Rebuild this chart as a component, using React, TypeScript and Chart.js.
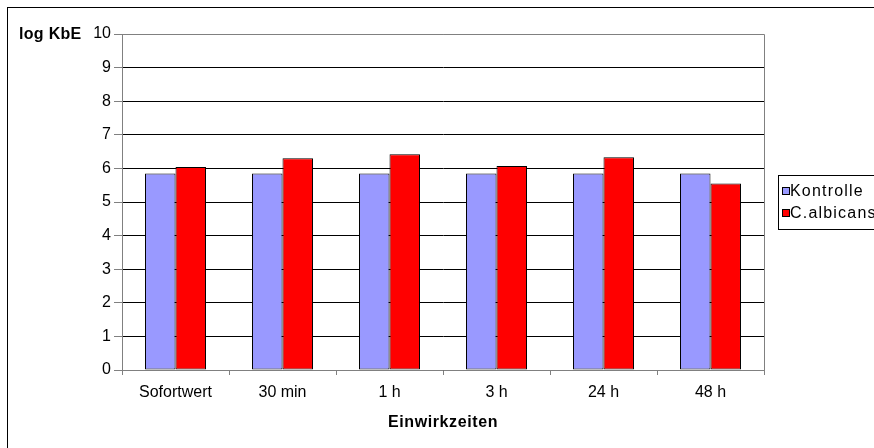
import React, { useEffect, useRef } from "react";
import { Chart, registerables } from "chart.js";

Chart.register(...registerables);

const categories = ["Sofortwert", "30 min", "1 h", "3 h", "24 h", "48 h"];
const kontrolle = [5.85, 5.85, 5.85, 5.85, 5.85, 5.85];
const albicans = [6.04, 6.3, 6.42, 6.07, 6.33, 5.55];
const seriesNames = ["Kontrolle", "C.albicans"];
const seriesColors = ["#9999FF", "#FF0000"];
const yTitle = "log KbE";
const xTitle = "Einwirkzeiten";

const FONT = "Liberation Sans, Arial, sans-serif";
const AXIS_GRAY = "#808080";

const decorations = {
  id: "decorations",
  afterDraw(chart: any) {
    const { ctx, chartArea } = chart;
    ctx.save();
    // outer frame
    ctx.strokeStyle = "#000";
    ctx.lineWidth = 1;
    ctx.strokeRect(7.5, 7.5, 900, 500);
    // plot border (top and right)
    ctx.strokeStyle = AXIS_GRAY;
    ctx.beginPath();
    ctx.moveTo(chartArea.left, chartArea.top + 0.5);
    ctx.lineTo(chartArea.right + 0.5, chartArea.top + 0.5);
    ctx.lineTo(chartArea.right + 0.5, chartArea.bottom);
    ctx.stroke();

    // axis titles
    ctx.fillStyle = "#000";
    ctx.font = `bold 16px ${FONT}`;
    ctx.textBaseline = "middle";
    ctx.textAlign = "left";
    ctx.letterSpacing = "0.3px";
    ctx.fillText(yTitle, 19, chartArea.top + 0.5);
    ctx.textAlign = "center";
    ctx.letterSpacing = "0.6px";
    ctx.fillText(xTitle, (chartArea.left + chartArea.right) / 2, 423);

    // legend
    const lx = 778.5;
    const ly = 175.5;
    ctx.strokeStyle = "#000";
    ctx.fillStyle = "#fff";
    ctx.fillRect(lx, ly, 120, 54);
    ctx.strokeRect(lx, ly, 120, 54);
    ctx.font = `16px ${FONT}`;
    ctx.textAlign = "left";
    ctx.letterSpacing = "1.2px";
    seriesNames.forEach((name, i) => {
      const cy = 191 + i * 22;
      ctx.fillStyle = seriesColors[i];
      ctx.fillRect(782.5, cy - 3.5, 7, 7);
      ctx.strokeStyle = "#000";
      ctx.strokeRect(782.5, cy - 3.5, 7, 7);
      ctx.fillStyle = "#000";
      ctx.fillText(name, 790, cy + 0.5);
    });
    ctx.restore();
  },
};

export default function App() {
  const ref = useRef<HTMLCanvasElement | null>(null);

  useEffect(() => {
    document.body.style.margin = "0";
    const canvas = ref.current!;
    const chart = new Chart(canvas, {
      type: "bar",
      data: {
        labels: categories,
        datasets: [
          {
            label: seriesNames[0],
            data: kontrolle,
            backgroundColor: seriesColors[0],
            borderColor: "#000",
            borderWidth: 1,
            borderSkipped: false,
          },
          {
            label: seriesNames[1],
            data: albicans,
            backgroundColor: seriesColors[1],
            borderColor: "#000",
            borderWidth: 1,
            borderSkipped: false,
          },
        ],
      },
      options: {
        animation: false,
        responsive: false,
        devicePixelRatio: 1,
        layout: { padding: { left: 0, top: 34, right: 110, bottom: 0 } },
        plugins: { legend: { display: false }, tooltip: { enabled: false } },
        datasets: { bar: { barPercentage: 1, categoryPercentage: 0.57 } },
        scales: {
          x: {
            grid: {
              display: true,
              drawOnChartArea: false,
              offset: true,
              tickLength: 5,
              tickColor: AXIS_GRAY,
            },
            border: { color: AXIS_GRAY, width: 1 },
            ticks: {
              color: "#000",
              font: { family: FONT, size: 16 },
              padding: 8,
              maxRotation: 0,
            },
            afterFit(scale: any) {
              scale.height = 78;
            },
          },
          y: {
            min: 0,
            max: 10,
            grid: {
              color: (c: any) => (c.tick && c.tick.value === 10 ? AXIS_GRAY : "#000"),
              tickColor: AXIS_GRAY,
              tickLength: 8,
            },
            border: { color: AXIS_GRAY, width: 1 },
            ticks: {
              stepSize: 1,
              color: "#000",
              font: { family: FONT, size: 16 },
              padding: 3,
            },
            afterFit(scale: any) {
              scale.width = 122;
            },
          },
        },
      },
      plugins: [decorations],
    });
    return () => chart.destroy();
  }, []);

  return <canvas ref={ref} width={874} height={448} style={{ display: "block" }} />;
}
